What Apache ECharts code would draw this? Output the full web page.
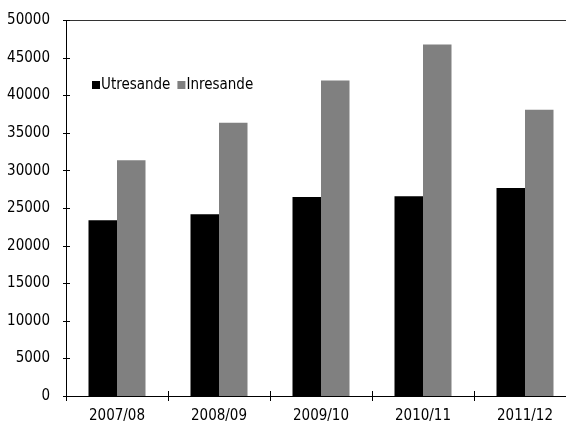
<!DOCTYPE html>
<html>
<head>
<meta charset="utf-8">
<script src="https://cdn.jsdelivr.net/npm/echarts@6/dist/echarts.min.js"></script>
<style>
html,body{margin:0;padding:0;background:#fff;}
#chart{width:566px;height:426px;}
</style>
</head>
<body>
<div id="chart"></div>
<script>
const categories = ['2007/08', '2008/09', '2009/10', '2010/11', '2011/12'];
const utresande = [23400, 24200, 26500, 26600, 27700];
const inresande = [31400, 36400, 42000, 46800, 38100];
const seriesNames = ['Utresande', 'Inresande'];
const yMin = 0, yMax = 50000, yStep = 5000;

const FONT = '"DejaVu Sans Condensed", "Liberation Sans", sans-serif';
const chart = echarts.init(document.getElementById('chart'), null, {renderer: 'canvas'});
chart.setOption({
  animation: false,
  backgroundColor: '#fff',
  textStyle: {fontFamily: FONT},
  grid: {left: 66, top: 20.5, bottom: 30, right: -10, containLabel: false, outerBoundsMode: 'none'},
  legend: {
    left: 92, top: 76, padding: 0,
    itemWidth: 8, itemHeight: 8, itemGap: 7,
    icon: 'rect',
    textStyle: {fontFamily: FONT, fontSize: 15, color: '#000', lineHeight: 18, padding: [0, 0, 0, -4]},
    data: seriesNames
  },
  xAxis: [
    {
      type: 'category', data: categories, position: 'bottom',
      axisLine: {show: true, lineStyle: {color: '#000', width: 1}},
      axisTick: {show: true, inside: false, length: 5, lineStyle: {color: '#000'}},
      axisLabel: {fontFamily: FONT, fontSize: 15, color: '#000', margin: 13},
      splitLine: {show: false}
    },
    {
      type: 'category', data: categories, position: 'bottom',
      axisLine: {show: false},
      axisTick: {show: true, inside: true, length: 5, lineStyle: {color: '#000'}},
      axisLabel: {show: false},
      splitLine: {show: false}
    },
    {
      type: 'category', data: categories, position: 'top',
      axisLine: {show: true, lineStyle: {color: '#333', width: 1}},
      axisTick: {show: false},
      axisLabel: {show: false},
      splitLine: {show: false}
    }
  ],
  yAxis: [
    {
      type: 'value', position: 'left', min: yMin, max: yMax, interval: yStep,
      axisLine: {show: true, lineStyle: {color: '#000', width: 1}},
      axisTick: {show: true, inside: true, length: 4, lineStyle: {color: '#000'}},
      axisLabel: {fontFamily: FONT, fontSize: 15, color: '#000', margin: 16, formatter: v => String(v)},
      splitLine: {show: false}
    },
    {
      type: 'value', position: 'left', min: yMin, max: yMax, interval: yStep,
      axisLine: {show: false},
      axisTick: {show: true, inside: false, length: 3, lineStyle: {color: '#000'}},
      axisLabel: {show: false},
      splitLine: {show: false}
    }
  ],
  series: [
    {
      name: seriesNames[0], type: 'bar', xAxisIndex: 0, yAxisIndex: 0,
      data: utresande, barWidth: 28.5, barGap: '0%',
      itemStyle: {color: '#000000'}
    },
    {
      name: seriesNames[1], type: 'bar', xAxisIndex: 0, yAxisIndex: 0,
      data: inresande, barWidth: 28.5, barGap: '0%',
      itemStyle: {color: '#808080'}
    }
  ]
});
</script>
</body>
</html>
